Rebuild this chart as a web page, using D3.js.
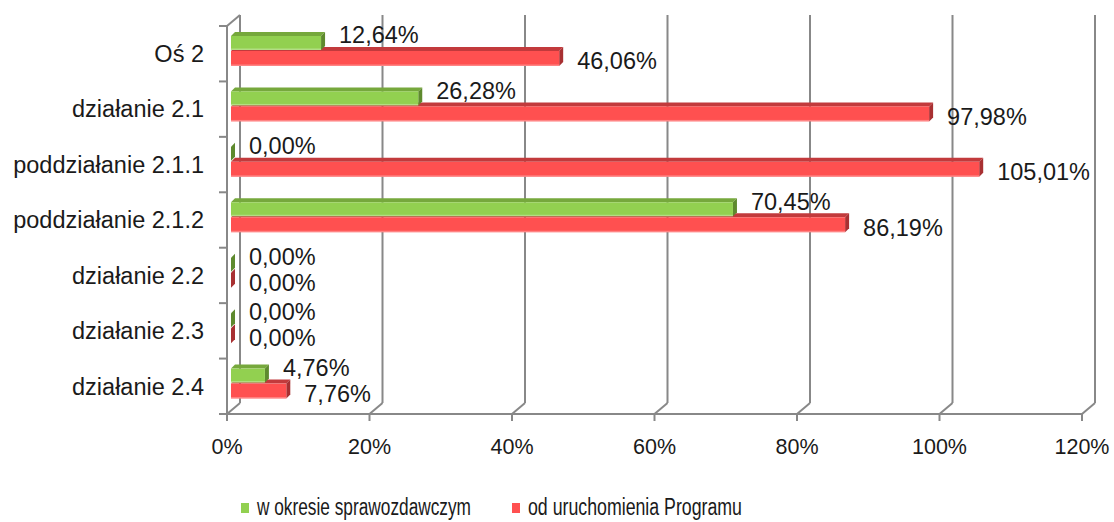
<!DOCTYPE html>
<html>
<head>
<meta charset="utf-8">
<script src="https://cdn.jsdelivr.net/npm/d3@7"></script>
<style>
  body { margin: 0; background: #fff; }
  text { font-family: "Liberation Sans", Arial, sans-serif; fill: #1a1a1a; }
</style>
</head>
<body>
<div id="chart"></div>
<script>
(function() {
    const categories = ["Oś 2", "działanie 2.1", "poddziałanie 2.1.1", "poddziałanie 2.1.2",
                        "działanie 2.2", "działanie 2.3", "działanie 2.4"];
    const seriesNames = ["w okresie sprawozdawczym", "od uruchomienia Programu"];
    const reportPeriod = [12.64, 26.28, 0.00, 70.45, 0.00, 0.00, 4.76];
    const sinceStart = [46.06, 97.98, 105.01, 86.19, 0.00, 0.00, 7.76];
    const xTicks = [0, 20, 40, 60, 80, 100, 120];

    const W = 1114, H = 522;
    const left = 227, right = 1082, top = 26, bottom = 414;
    const depth = { dx: 13, dy: -11 };   // back wall offset
    const barDepth = 4;                   // bar box depth
    const barShift = 4;                   // bars sit a bit into the floor

    const fmt = v => v.toFixed(2).replace(".", ",") + "%";

    const svg = d3.select("#chart").append("svg")
        .attr("width", W)
        .attr("height", H);

    const x = d3.scaleLinear().domain([0, 120]).range([left, right]);
    const y = d3.scaleBand().domain(categories).range([top, bottom]);

    const gridColor = "#888888";

    // back wall gridlines
    svg.append("g").selectAll("line")
        .data(xTicks)
        .join("line")
        .attr("x1", d => x(d) + depth.dx).attr("x2", d => x(d) + depth.dx)
        .attr("y1", top + depth.dy).attr("y2", bottom + depth.dy)
        .attr("stroke", gridColor).attr("stroke-width", 2);

    // floor diagonals
    svg.append("g").selectAll("line")
        .data(xTicks)
        .join("line")
        .attr("x1", d => x(d)).attr("y1", bottom)
        .attr("x2", d => x(d) + depth.dx).attr("y2", bottom + depth.dy)
        .attr("stroke", gridColor).attr("stroke-width", 2);

    // left side wall top edge
    svg.append("line")
        .attr("x1", left).attr("y1", top)
        .attr("x2", left + depth.dx).attr("y2", top + depth.dy)
        .attr("stroke", gridColor).attr("stroke-width", 2);

    // front axes
    svg.append("line")
        .attr("x1", left).attr("x2", left).attr("y1", top).attr("y2", bottom)
        .attr("stroke", gridColor).attr("stroke-width", 2);
    svg.append("line")
        .attr("x1", left).attr("x2", right).attr("y1", bottom).attr("y2", bottom)
        .attr("stroke", gridColor).attr("stroke-width", 2);

    // category ticks
    const bounds = categories.map(c => y(c)).concat([bottom]);
    svg.append("g").selectAll("line")
        .data(bounds)
        .join("line")
        .attr("x1", left - 8).attr("x2", left)
        .attr("y1", d => d).attr("y2", d => d)
        .attr("stroke", gridColor).attr("stroke-width", 2);

    // value ticks
    svg.append("g").selectAll("line")
        .data(xTicks)
        .join("line")
        .attr("x1", d => x(d)).attr("x2", d => x(d))
        .attr("y1", bottom).attr("y2", bottom + 7)
        .attr("stroke", gridColor).attr("stroke-width", 2);

    // tick labels
    svg.append("g").selectAll("text")
        .data(xTicks)
        .join("text")
        .attr("x", d => x(d))
        .attr("y", 446)
        .attr("dy", "0.35em")
        .attr("text-anchor", "middle")
        .style("font-size", "21.5px")
        .text(d => d + "%");

    svg.append("g").selectAll("text")
        .data(categories)
        .join("text")
        .attr("x", 204)
        .attr("y", d => y(d) + y.bandwidth() / 2)
        .attr("dy", "0.35em")
        .attr("text-anchor", "end")
        .style("font-size", "23.5px")
        .text(d => d);

    // bars
    const series = [
        { name: seriesNames[0], values: reportPeriod, off: 10, h: 14,
          front: "#92d050", topc: "#76a83c", side: "#5e8a2e", labelDy: 9 },
        { name: seriesNames[1], values: sinceStart, off: 25, h: 15,
          front: "#ff5050", topc: "#c23a3c", side: "#a83032", labelDy: 35 }
    ];

    // draw red first so green sits in front of its top face
    [series[1], series[0]].forEach(s => {
        const g = svg.append("g");
        categories.forEach((c, i) => {
            const v = s.values[i];
            const x0 = x(0) + barShift;
            const x1 = x(v) + barShift;
            const y0 = y(c) + s.off;
            const y1 = y0 + s.h;
            const d = barDepth;
            // top face
            g.append("path")
                .attr("d", `M${x0},${y0} L${x0 + d},${y0 - d} L${x1 + d},${y0 - d} L${x1},${y0} Z`)
                .attr("fill", s.topc);
            // side face
            g.append("path")
                .attr("d", `M${x1},${y0} L${x1 + d},${y0 - d} L${x1 + d},${y1 - d} L${x1},${y1} Z`)
                .attr("fill", s.side);
            // front face
            if (x1 > x0) {
                g.append("rect")
                    .attr("x", x0).attr("y", y0)
                    .attr("width", x1 - x0).attr("height", s.h)
                    .attr("fill", s.front);
                g.append("rect")
                    .attr("x", x0).attr("y", y1 - 1.5)
                    .attr("width", x1 - x0).attr("height", 1.5)
                    .attr("fill", "#ffffff").attr("opacity", 0.3);
            }
        });
    });

    // data labels
    series.forEach(s => {
        svg.append("g").selectAll("text")
            .data(categories)
            .join("text")
            .attr("x", (c, i) => x(s.values[i]) + barShift + barDepth + 14)
            .attr("y", c => y(c) + s.labelDy)
            .attr("dy", "0.35em")
            .style("font-size", "23.5px")
            .text((c, i) => fmt(s.values[i]));
    });

    // legend
    const legend = svg.append("g");
    const legendItems = [
        { name: seriesNames[0], color: "#92d050", x: 241, w: 214 },
        { name: seriesNames[1], color: "#ff5050", x: 512, w: 214 }
    ];
    legendItems.forEach(it => {
        legend.append("rect")
            .attr("x", it.x).attr("y", 503)
            .attr("width", 8).attr("height", 10)
            .attr("fill", it.color);
        legend.append("text")
            .attr("x", it.x + 16)
            .attr("y", 507)
            .attr("dy", "0.35em")
            .attr("textLength", it.w)
            .attr("lengthAdjust", "spacingAndGlyphs")
            .style("font-size", "23px")
            .text(it.name);
    });
})();
</script>
</body>
</html>
